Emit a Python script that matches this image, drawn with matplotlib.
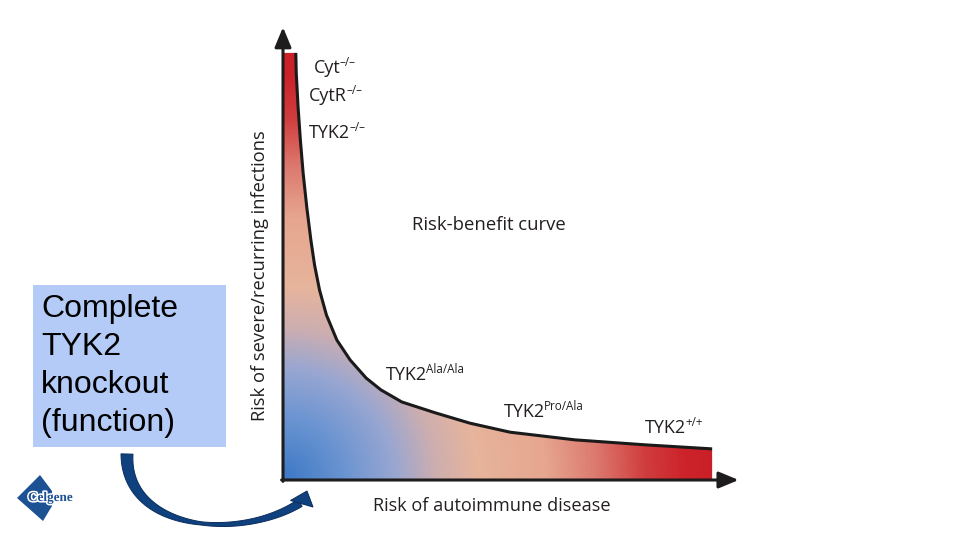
import numpy as np
import matplotlib
matplotlib.use("Agg")
import matplotlib.pyplot as plt
from matplotlib.colors import LinearSegmentedColormap
from matplotlib.patches import Polygon, Rectangle
import matplotlib.patheffects as pe

# ---------------- data ----------------
curve_x = [0.28, 0.29, 0.33, 0.38, 0.44, 0.52, 0.61, 0.69, 0.80, 0.95, 1.18,
           1.47, 1.82, 2.14, 2.60, 3.33, 4.09, 4.97, 6.39, 7.92, 9.39]
curve_y = [9.47, 9.02, 8.27, 7.54, 6.81, 6.05, 5.32, 4.77, 4.21, 3.66, 3.10,
           2.66, 2.26, 2.00, 1.73, 1.49, 1.26, 1.06, 0.89, 0.78, 0.69]

genotype_base = ["Cyt", "CytR", "TYK2", "TYK2", "TYK2", "TYK2"]
genotype_sup = ["\u2013/\u2013", "\u2013/\u2013", "\u2013/\u2013", "Ala/Ala", "Pro/Ala", "+/+"]

x_label = "Risk of autoimmune disease"
y_label = "Risk of severe/recurring infections"
curve_label = "Risk-benefit curve"
box_lines = ["Complete", "TYK2", "knockout", "(function)"]
logo_text = "Celgene"

# ---------------- layout ----------------
W, H = 960, 540
fig = plt.figure(figsize=(9.6, 5.4), dpi=100)
fig.patch.set_facecolor("white")

ax_left, ax_bottom, ax_right, ax_top = 283, 480, 740, 29
ax = fig.add_axes([ax_left / W, (H - ax_bottom) / H,
                   (ax_right - ax_left) / W, (ax_bottom - ax_top) / H])
XMAX, YMAX = 10.0, 10.0
ax.set_xlim(0, XMAX)
ax.set_ylim(0, YMAX)
ax.axis("off")
sx = (ax_right - ax_left) / XMAX   # px per data unit
sy = (ax_bottom - ax_top) / YMAX

# gradient fill under the curve
cmap = LinearSegmentedColormap.from_list("rb", [
    (0.00, "#3c78c5"), (0.13, "#6a94d1"), (0.24, "#98a6d2"),
    (0.33, "#cdaeb0"), (0.42, "#e7b49c"), (0.57, "#e6a68f"),
    (0.68, "#dc7a6f"), (0.79, "#d03c3d"), (0.88, "#cc2229"),
    (1.00, "#c71f27")])
xr = max(curve_x)
yr = max(curve_y)
gx = np.linspace(0, xr, 500)
gy = np.linspace(0, yr, 500)
GX, GY = np.meshgrid(gx, gy)
D = np.sqrt((GX * sx) ** 2 + (GY * sy) ** 2) / 460.0
im = ax.imshow(D, cmap=cmap, vmin=0, vmax=1, origin="lower",
               extent=[0, xr, 0, yr], aspect="auto", zorder=1,
               interpolation="bilinear")
poly_pts = [(0, 0), (0, curve_y[0])] + list(zip(curve_x, curve_y)) + [(curve_x[-1], 0)]
clip = Polygon(poly_pts, closed=True, transform=ax.transData, facecolor="none",
               edgecolor="none")
ax.add_patch(clip)
im.set_clip_path(clip)

# curve line
ax.plot(curve_x, curve_y, color="#1b1a1a", lw=2.2, zorder=3,
        solid_capstyle="butt", solid_joinstyle="round")

# axes with arrows
axis_col = "#1e1c1d"
arrow_kw = dict(arrowstyle="-|>,head_length=0.6,head_width=0.25",
                mutation_scale=20, lw=2.2, color=axis_col,
                shrinkA=0, shrinkB=0)
ax.annotate("", xy=(0, YMAX + 0.04), xytext=(0, -0.03), arrowprops=arrow_kw,
            zorder=4, annotation_clip=False)
ax.annotate("", xy=(XMAX - 0.03, 0), xytext=(-0.03, 0), arrowprops=arrow_kw,
            zorder=4, annotation_clip=False)

# ---------------- overlay in pixel coordinates ----------------
ov = fig.add_axes([0, 0, 1, 1], zorder=5)
ov.set_xlim(0, W)
ov.set_ylim(H, 0)
ov.axis("off")
ov.patch.set_alpha(0)

font = "Open Sans"
tcol = "#231f20"
base_fs = 13.0
sup_fs = 8.4

label_pos = [(314, 68), (309, 96), (309, 133), (386, 375), (504, 412), (645, 428)]
for (px, py), b, s in zip(label_pos, genotype_base, genotype_sup):
    t = ov.text(px, py, b, fontsize=base_fs, family=font, color=tcol,
                ha="left", va="center")
    ov.annotate(s, xy=(1.0, 0.62), xycoords=t, xytext=(-0.6, 0),
                textcoords="offset points", fontsize=sup_fs, family=font,
                color=tcol, ha="left", va="baseline")

ov.text(412, 225, curve_label, fontsize=13.3, family=font, color=tcol,
        ha="left", va="center")
ov.text(492, 506, x_label, fontsize=13.1, family=font, color=tcol,
        ha="center", va="center")
ov.text(260, 276, y_label, fontsize=13.2, family=font, color=tcol,
        ha="center", va="center", rotation=90)

# blue text box
ov.add_patch(Rectangle((33, 285), 193, 162, facecolor="#b3cbf6",
                       edgecolor="none"))
for yy, line in zip([317, 355, 393, 431], box_lines):
    ov.text(41, yy, line, fontsize=23.0, family="Liberation Sans",
            color="black", ha="left", va="baseline")

# curved arrow (tapered)
P0 = np.array([127.0, 454.0]); P1 = np.array([125.0, 531.0])
P2 = np.array([240.0, 541.0]); P3 = np.array([300.0, 503.0])
tt = np.linspace(0, 1, 80)[:, None]
C = ((1 - tt) ** 3) * P0 + 3 * ((1 - tt) ** 2) * tt * P1 + 3 * (1 - tt) * tt ** 2 * P2 + tt ** 3 * P3
dC = 3 * ((1 - tt) ** 2) * (P1 - P0) + 6 * (1 - tt) * tt * (P2 - P1) + 3 * tt ** 2 * (P3 - P2)
nrm = np.stack([-dC[:, 1], dC[:, 0]], axis=1)
nrm = nrm / np.linalg.norm(nrm, axis=1)[:, None]
wt = np.interp(tt[:, 0], [0, 0.3, 0.55, 0.8, 1.0], [12, 7.5, 3.2, 5.5, 8.0]) / 2
left = C + nrm * wt[:, None]
right = C - nrm * wt[:, None]
body = np.vstack([left, right[::-1]])
ov.add_patch(Polygon(body, closed=True, facecolor="#0f417f",
                     edgecolor="#0a2d5a", lw=0.7))
ov.add_patch(Polygon([(290.5, 500.5), (307, 491), (313, 507)], closed=True,
                     facecolor="#0f417f", edgecolor="#0a2d5a", lw=0.7))

# logo
ov.add_patch(Polygon([(17, 498), (40, 475), (52, 491), (52, 506), (43, 521)],
                     closed=True, facecolor="#1c5193", edgecolor="none"))
ov.text(28, 498, logo_text, fontsize=9.5, family="Liberation Serif",
        weight="bold", color="#1c5193", ha="left", va="center",
        path_effects=[pe.withStroke(linewidth=2.2, foreground="white")])

fig.savefig("out.png", dpi=100, facecolor="white")
